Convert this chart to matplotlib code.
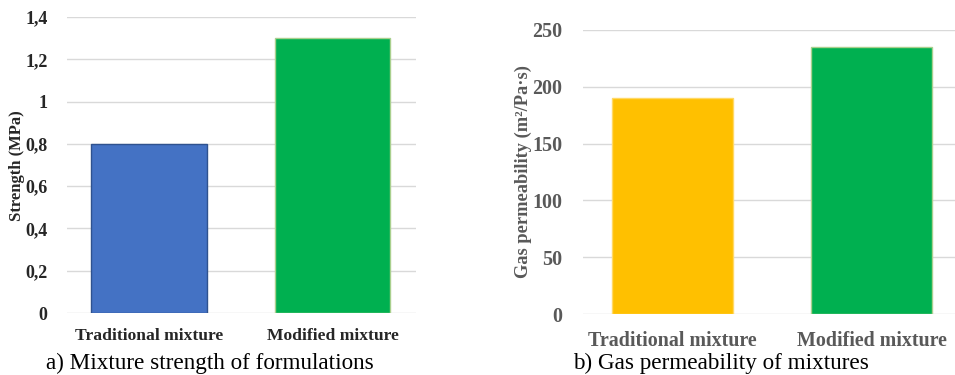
import matplotlib
matplotlib.use("Agg")
import matplotlib.pyplot as plt

# data
mixtures = ["Traditional mixture", "Modified mixture"]
strength = [0.8, 1.3]
permeability = [190, 235]
strength_ticks = [0, 0.2, 0.4, 0.6, 0.8, 1.0, 1.2, 1.4]
strength_ticklabels = ["0", "0,2", "0,4", "0,6", "0,8", "1", "1,2", "1,4"]
perm_ticks = [0, 50, 100, 150, 200, 250]

plt.rcParams['font.family'] = ['Liberation Serif', 'DejaVu Serif']

fig = plt.figure(figsize=(9.55, 3.75), dpi=100)
W, H = 955, 375

def px_axes(x0, x1, ytop, ybot):
    return fig.add_axes([x0 / W, (H - ybot) / H, (x1 - x0) / W, (ybot - ytop) / H])

def style(ax, color):
    for s in ax.spines.values():
        s.set_visible(False)
    ax.tick_params(length=0, colors=color)
    ax.yaxis.grid(True, color="#d9d9d9", lw=1)
    ax.set_axisbelow(True)

# a) strength
ax1 = px_axes(67, 416, 17, 313)
ax1.bar(range(2), strength, width=0.632, color=["#4472C4", "#00B050"],
        edgecolor=["#2F528F", "#A9D08E"], lw=1)
ax1.set_ylim(0, 1.4)
ax1.set_xlim(-0.447, 1.455)
ax1.set_yticks(strength_ticks)
ax1.set_yticklabels(strength_ticklabels, fontweight="bold", fontsize=13)
ax1.set_xticks(range(2))
ax1.set_xticklabels(mixtures, fontweight="bold", fontsize=12.6)
style(ax1, "#262626")
ax1.tick_params(axis="y", pad=14)
ax1.tick_params(axis="x", pad=11)
fig.text(17 / W, 1 - 166 / H, "Strength (MPa)", rotation=90, ha="center", va="center",
         fontweight="bold", fontsize=12, color="#262626")
fig.text(46 / W, 1 - 369 / H, "a) Mixture strength of formulations", ha="left",
         va="baseline", fontsize=16.7, color="black")

# b) gas permeability
ax2 = px_axes(583, 955, 30, 314)
ax2.bar(range(2), permeability, width=0.608, color=["#FFC000", "#00B050"],
        edgecolor=["#FFD966", "#A9D08E"], lw=1)
ax2.set_ylim(0, 250)
ax2.set_xlim(-0.45, 1.42)
ax2.set_yticks(perm_ticks)
ax2.set_yticklabels([str(t) for t in perm_ticks], fontweight="bold", fontsize=14.4)
ax2.set_xticks(range(2))
ax2.set_xticklabels(mixtures, fontweight="bold", fontsize=14.4)
style(ax2, "#595959")
ax2.tick_params(axis="y", pad=15)
ax2.tick_params(axis="x", pad=12)
fig.text(523 / W, 1 - 172 / H, "Gas permeability (m\u00b2/Pa\u00b7s)", rotation=90,
         ha="center", va="center", fontweight="bold", fontsize=13.2, color="#595959")
fig.text(573 / W, 1 - 369 / H, "b) Gas permeability of mixtures", ha="left",
         va="baseline", fontsize=16.7, color="black")

fig.savefig("out.png", dpi=100)
